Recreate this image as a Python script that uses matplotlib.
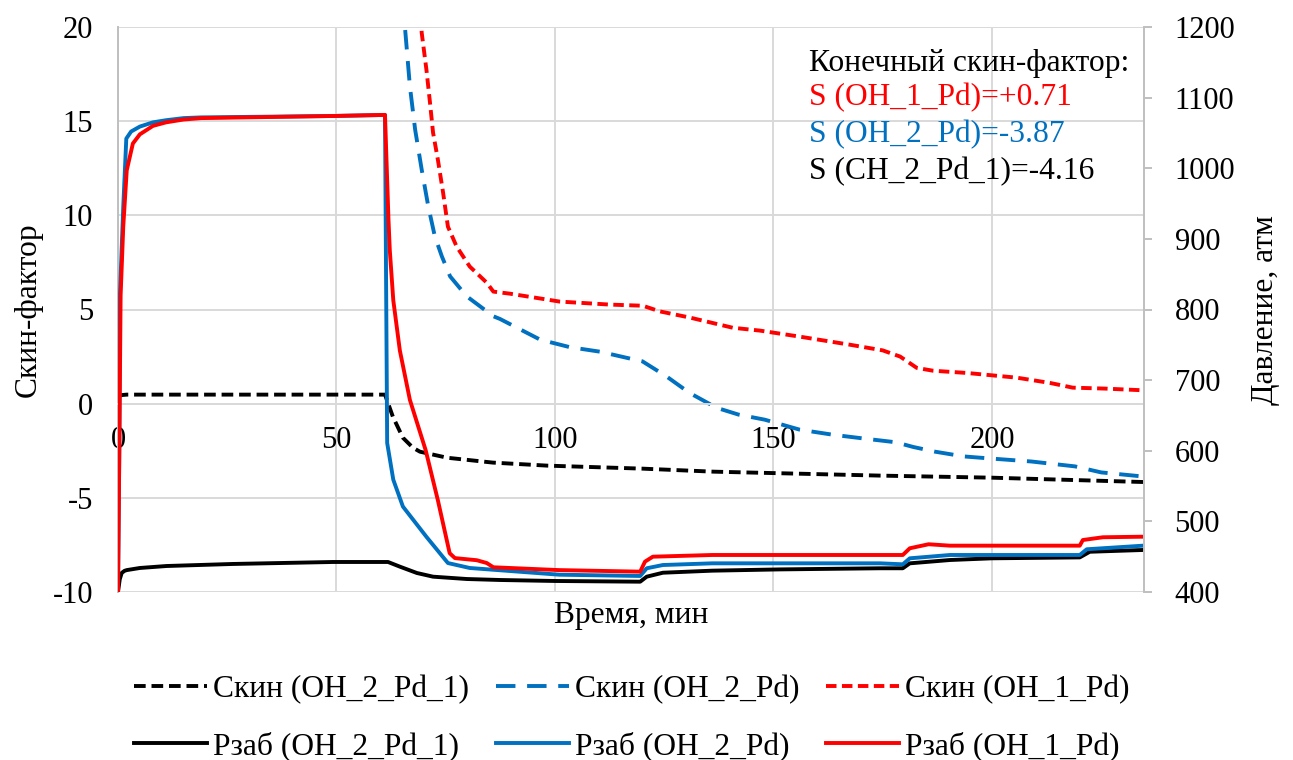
import matplotlib
matplotlib.use('Agg')
import matplotlib.pyplot as plt

# ---------------- data ----------------
# Skin factor (left axis)
t_skin_oh2pd1 = [0, 0.5, 2, 61.1, 62.9, 65.2, 67.5, 69.1, 75.3, 85.8, 98.2, 120, 136.2, 174.4, 200, 234.6]
s_skin_oh2pd1 = [0.3, 0.45, 0.48, 0.48, -0.69, -1.81, -2.34, -2.55, -2.87, -3.13, -3.29, -3.45, -3.61, -3.82, -3.93, -4.16]

t_skin_oh2pd = [64.8, 65.7, 66.8, 68.0, 69.5, 71.0, 72.5, 74.1, 76.0, 79.8, 85.9, 87.4, 96.6, 103.4, 110.3, 116.5,
                120, 125.5, 130.8, 137, 142, 148, 156, 163.6, 171, 178, 182, 187, 193.5, 199, 209, 219, 225, 234.7]
s_skin_oh2pd = [23, 19.9, 16.85, 14.55, 12.43, 10.48, 8.89, 7.83, 6.76, 5.7, 4.64, 4.5, 3.4, 3.0, 2.76, 2.43,
                2.25, 1.45, 0.57, -0.22, -0.58, -0.85, -1.38, -1.65, -1.86, -2.05, -2.3, -2.55, -2.8, -2.9, -3.07, -3.33, -3.65, -3.87]

t_skin_oh1pd = [69.0, 69.5, 70.6, 71.4, 72.1, 73.2, 74.4, 75.5, 77.5, 80.5, 84.4, 85.9, 89.7, 101.1, 112.6, 120.1,
                124, 130.9, 140.7, 146.9, 156, 167.5, 175, 179, 182.8, 186.5, 194.3, 205.7, 213.3, 218.5, 225.9, 234.6]
s_skin_oh1pd = [22, 19.7, 17.7, 15.98, 14.39, 12.96, 11.2, 9.4, 8.34, 7.28, 6.42, 5.95, 5.84, 5.42, 5.26, 5.2,
                4.9, 4.57, 4.03, 3.88, 3.56, 3.13, 2.83, 2.5, 1.9, 1.75, 1.63, 1.38, 1.1, 0.85, 0.8, 0.71]

# Bottom-hole pressure (right axis), atm
t_p_oh2pd1 = [0, 0.4, 0.85, 1.5, 2, 5, 11.1, 26.3, 49.2, 61.8, 64.5, 68.4, 72.1, 79.8, 87.4, 100, 119.5, 121, 124.7, 136,
              151.5, 174.4, 179.6, 181.2, 190.4, 200, 220.1, 222.4, 234.6]
p_oh2pd1 = [400, 418, 427, 430, 431, 434, 436.8, 439.7, 442.5, 442.5, 435.9, 426.9, 421.7, 418.4, 417, 415.6, 414.6, 421.7,
            427.3, 430.2, 432, 433.6, 433.6, 440.6, 445.3, 447.7, 449, 457, 459.5]

t_p_oh2pd = [0, 0.3, 0.45, 1.2, 1.9, 3, 5, 8, 11, 15, 19, 49.2, 61.1, 61.6, 63.0, 65.2, 70.6, 75.5, 80.5, 101, 119.5, 121,
             124.7, 136, 174.4, 179.6, 181.2, 190.4, 220.1, 221.7, 234.6]
p_oh2pd = [400, 600, 823, 945, 1042, 1052, 1059, 1065, 1068, 1071, 1072, 1074, 1075.5, 611, 559, 521, 478, 441, 434, 424.5,
           422.7, 433.6, 438.2, 440.6, 440.6, 439.2, 447.7, 452.4, 452.4, 460.5, 465.6]

t_p_oh1pd = [0, 0.3, 0.6, 1.2, 2, 3.4, 5, 8, 11, 15, 19, 49.2, 61.1, 61.9, 62.2, 63, 64.5, 66.8, 70.4, 73.2, 75.9, 77.1,
             82.1, 84.4, 85.9, 101, 119.5, 120.6, 122.4, 136, 174.4, 179.6, 181.2, 185.5, 190.4, 220.1, 220.8, 225.4, 234.6]
p_oh1pd = [400, 600, 820, 917, 997, 1035, 1048, 1060, 1065, 1069, 1071, 1074, 1075.5, 927, 884, 813, 742, 672, 601, 530,
           455, 448, 445, 441, 435, 431, 428.8, 443, 450, 452.4, 452.4, 452.4, 461.9, 467.6, 465.6, 465.6, 473.6, 477.5, 478.3]

labels_skin = ['Скин (OH_2_Pd_1)', 'Скин (OH_2_Pd)', 'Скин (OH_1_Pd)']
labels_p = ['Рзаб (OH_2_Pd_1)', 'Рзаб (OH_2_Pd)', 'Рзаб (OH_1_Pd)']
annot_title = 'Конечный скин-фактор:'
annot_lines = ['S (OH_1_Pd)=+0.71', 'S (OH_2_Pd)=-3.87', 'S (CH_2_Pd_1)=-4.16']

x_ticks = [0, 50, 100, 150, 200]
y_left_ticks = [-10, -5, 0, 5, 10, 15, 20]
y_right_ticks = [400, 500, 600, 700, 800, 900, 1000, 1100, 1200]

# ---------------- style ----------------
plt.rcParams['font.family'] = ['Liberation Serif', 'DejaVu Serif']
plt.rcParams['axes.unicode_minus'] = False
FS = 22.7
FT = 22
RED = '#FF0000'
BLUE = '#0070C0'
BLACK = '#000000'
GRID = '#D9D9D9'
LW = 2.8

fig = plt.figure(figsize=(12.93, 7.6), dpi=100)
ax = fig.add_axes([118/1293, 1-592/760, (1144-118)/1293, (592-27)/760])
ax2 = ax.twinx()

ax.set_xlim(0, 234.8)
ax.set_ylim(-10, 20)
ax2.set_ylim(400, 1200)

l1, = ax.plot(t_skin_oh2pd1, s_skin_oh2pd1, color=BLACK, lw=LW, dashes=(3.0, 1.5), label=labels_skin[0])
l2, = ax.plot(t_skin_oh2pd, s_skin_oh2pd, color=BLUE, lw=LW, dashes=(5.0, 3.0), label=labels_skin[1])
l3, = ax.plot(t_skin_oh1pd, s_skin_oh1pd, color=RED, lw=LW, dashes=(2.7, 1.4), label=labels_skin[2])

p1, = ax2.plot(t_p_oh2pd1, p_oh2pd1, color=BLACK, lw=LW, label=labels_p[0])
p2, = ax2.plot(t_p_oh2pd, p_oh2pd, color=BLUE, lw=LW, label=labels_p[1])
p3, = ax2.plot(t_p_oh1pd, p_oh1pd, color=RED, lw=LW, label=labels_p[2])

# grid
ax.set_xticks(x_ticks)
ax.set_yticks(y_left_ticks)
ax2.set_yticks(y_right_ticks)
ax.grid(True, color=GRID, lw=1.4)
ax.set_axisbelow(True)

# spines
ax.spines['top'].set_visible(False)
ax.spines['right'].set_visible(False)
ax.spines['bottom'].set_position(('data', 0))
ax.spines['bottom'].set_color(GRID)
ax.spines['bottom'].set_linewidth(1.4)
ax.spines['left'].set_color('#BFBFBF')
ax.spines['left'].set_linewidth(1.4)
for s in ['top', 'left', 'bottom']:
    ax2.spines[s].set_visible(False)
ax2.spines['right'].set_color('#BFBFBF')
ax2.spines['right'].set_linewidth(1.4)

ax.tick_params(axis='x', length=0, pad=16, labelsize=FT)
ax.tick_params(axis='y', length=0, pad=18, labelsize=FT)
ax2.tick_params(axis='y', length=6, width=1.4, color='#BFBFBF', pad=16, labelsize=FT)

# axis labels
fig.text(28/1293, 1-310/760, 'Скин-фактор', rotation=90, ha='center', va='center', fontsize=FS)
fig.text(1265/1293, 1-310/760, 'Давление, атм', rotation=90, ha='center', va='center', fontsize=FS)
fig.text(631/1293, 1-616/760, 'Время, мин', ha='center', va='center', fontsize=FS)

# annotation
ys = [63, 98, 135, 172]
cols = [BLACK, RED, BLUE, BLACK]
texts = [annot_title] + annot_lines
for y, c, s in zip(ys, cols, texts):
    fig.text(809/1293, 1-y/760, s, color=c, ha='left', va='center', fontsize=FS)

# legend
handles = [l1, p1, l2, p2, l3, p3]
fig.legend(handles=handles, labels=[h.get_label() for h in handles], ncol=3, loc='center',
           bbox_to_anchor=(632/1293, 1-718/760), frameon=False, fontsize=FS,
           handlelength=2.3, handletextpad=0.2, columnspacing=0.85, labelspacing=0.85)

fig.savefig('out.png', dpi=100)
